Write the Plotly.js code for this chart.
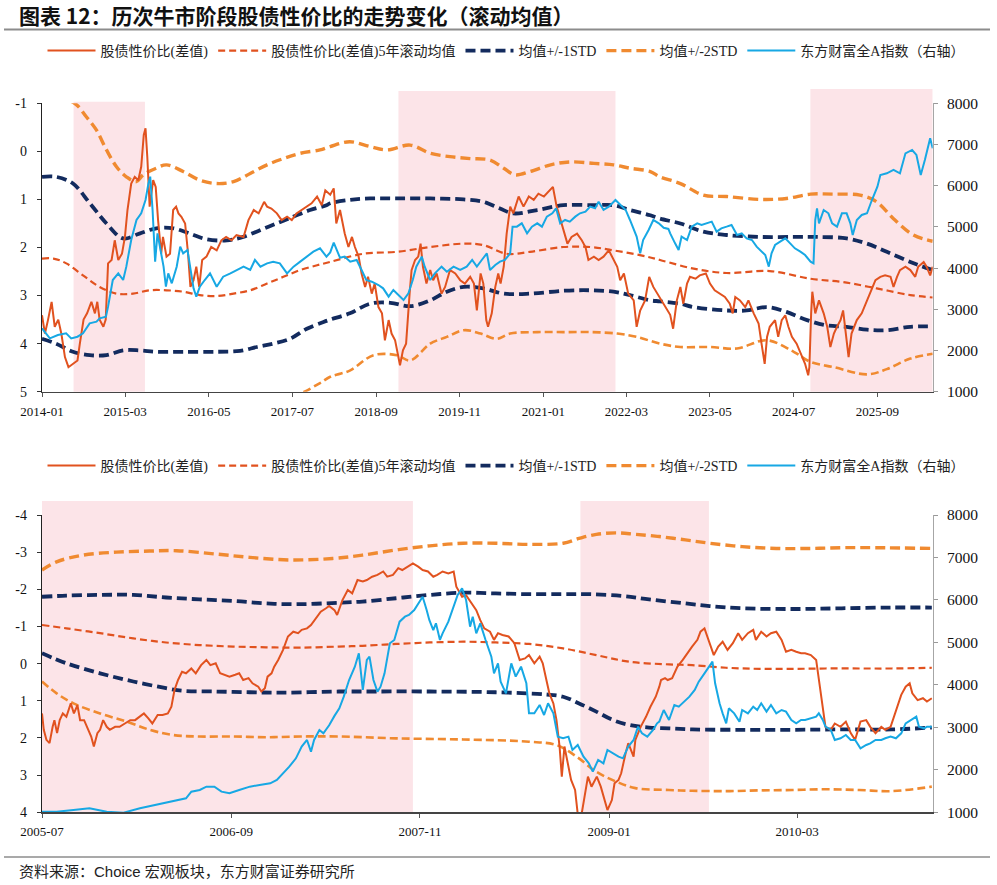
<!DOCTYPE html>
<html>
<head>
<meta charset="utf-8">
<script src="https://cdn.plot.ly/plotly-3.0.1.min.js"></script>
<style>
  html, body { margin: 0; padding: 0; background: #fff; }
  #chart { width: 997px; height: 885px; }
</style>
</head>
<body>
<div id="chart"></div>
<script>
// ---------- Panel 1: 2014-01 to 2026 ----------
const topTicks = ['2014-01','2015-03','2016-05','2017-07','2018-09','2019-11','2021-01','2022-03','2023-05','2024-07','2025-09'];
const topBullRuns = [['2014-06-11','2015-06-10'],['2018-12-24','2022-01-04'],['2024-09-24','2026-06-10']];

// equity-bond spread (left axis)
const topRatio = [['2014-01-01',3.41],['2014-01-16',3.79],['2014-02-01',3.5],['2014-02-19',3.13],['2014-03-07',3.65],['2014-03-25',3.5],['2014-04-10',3.8],['2014-04-28',4.28],['2014-05-16',4.49],['2014-06-10',4.42],['2014-07-01',4.35],['2014-07-13',4.0],['2014-08-01',3.5],['2014-08-19',3.37],['2014-09-10',3.13],['2014-09-28',3.37],['2014-10-10',3.13],['2014-10-22',3.5],['2014-11-10',3.65],['2014-11-22',3.5],['2014-12-04',2.33],['2014-12-22',2.26],['2015-01-07',1.85],['2015-01-25',2.26],['2015-02-13',2.13],['2015-02-28',1.78],['2015-03-13',1.22],['2015-04-01',0.67],['2015-04-19',0.53],['2015-05-07',0.6],['2015-05-22',0.32],['2015-06-04',-0.34],['2015-06-13',-0.48],['2015-06-22',0.11],['2015-07-04',1.15],['2015-07-22',0.6],['2015-08-04',0.74],['2015-08-16',1.43],['2015-09-01',2.13],['2015-09-10',1.78],['2015-09-28',2.19],['2015-10-16',2.13],['2015-11-01',1.22],['2015-11-16',1.15],['2015-11-28',1.29],['2015-12-13',1.36],['2016-01-01',1.5],['2016-01-16',2.13],['2016-01-28',2.82],['2016-02-13',2.68],['2016-02-27',2.4],['2016-03-13',2.82],['2016-03-28',2.26],['2016-04-19',2.19],['2016-05-13',1.99],['2016-06-10',2.06],['2016-07-04',1.85],['2016-07-28',1.78],['2016-08-25',1.85],['2016-09-19',1.74],['2016-10-25',1.78],['2016-11-19',1.43],['2016-12-16',1.22],['2017-01-10',1.29],['2017-02-07',1.05],['2017-02-22',1.15],['2017-03-16',1.19],['2017-04-13',1.29],['2017-05-07',1.43],['2017-06-04',1.36],['2017-06-28',1.43],['2017-07-22',1.29],['2017-08-19',1.22],['2017-09-13',1.15],['2017-10-07',1.08],['2017-11-04',0.94],['2017-11-28',1.12],['2017-12-16',0.81],['2018-01-10',0.9],['2018-01-28',0.77],['2018-02-10',1.5],['2018-03-01',1.22],['2018-03-25',1.71],['2018-04-13',1.99],['2018-05-01',1.78],['2018-05-16',1.99],['2018-06-04',2.19],['2018-06-19',2.54],['2018-07-07',2.82],['2018-07-22',2.61],['2018-08-10',2.96],['2018-08-25',2.75],['2018-09-13',3.24],['2018-10-01',3.37],['2018-10-16',3.93],['2018-11-04',3.51],['2018-11-19',3.79],['2018-12-07',3.93],['2018-12-19',4.21],['2019-01-01',4.45],['2019-01-16',4.14],['2019-02-01',4.0],['2019-02-19',2.96],['2019-03-01',2.47],['2019-03-19',2.26],['2019-04-04',2.19],['2019-04-16',1.92],['2019-04-28',2.4],['2019-05-16',2.75],['2019-06-04',2.47],['2019-06-19',2.68],['2019-07-07',2.54],['2019-08-01',2.96],['2019-08-19',2.82],['2019-09-13',2.47],['2019-10-10',2.54],['2019-11-04',2.68],['2019-11-28',2.75],['2019-12-25',2.61],['2020-01-13',2.75],['2020-01-28',3.31],['2020-02-16',2.54],['2020-03-01',2.75],['2020-03-16',3.51],['2020-03-25',3.65],['2020-04-13',3.37],['2020-05-01',2.82],['2020-05-16',2.54],['2020-05-28',2.75],['2020-06-13',2.4],['2020-06-28',1.71],['2020-07-16',1.15],['2020-08-01',1.29],['2020-08-28',0.94],['2020-09-22',1.15],['2020-10-19',0.94],['2020-11-13',1.01],['2020-12-07',0.88],['2021-01-04',0.94],['2021-01-28',0.84],['2021-02-19',0.74],['2021-03-10',1.15],['2021-04-04',1.5],['2021-04-22',1.78],['2021-05-04',1.92],['2021-05-25',1.78],['2021-06-22',1.71],['2021-07-16',1.85],['2021-08-04',1.99],['2021-08-19',2.26],['2021-09-16',2.19],['2021-10-10',2.26],['2021-11-04',2.19],['2021-12-01',2.06],['2021-12-25',2.26],['2022-01-13',2.4],['2022-01-28',2.68],['2022-02-16',2.54],['2022-03-10',2.96],['2022-04-07',3.1],['2022-04-22',3.65],['2022-05-10',3.31],['2022-06-04',3.1],['2022-06-25',2.61],['2022-07-16',2.82],['2022-08-13',3.0],['2022-09-13',3.2],['2022-10-10',3.4],['2022-10-25',3.69],['2022-11-13',3.1],['2022-12-01',2.82],['2022-12-16',3.17],['2023-01-04',2.75],['2023-01-19',2.61],['2023-02-16',2.65],['2023-03-10',2.58],['2023-04-10',2.54],['2023-05-01',2.75],['2023-05-25',2.89],['2023-06-22',2.96],['2023-07-16',3.03],['2023-08-10',3.17],['2023-08-25',3.37],['2023-09-07',3.03],['2023-10-01',3.1],['2023-10-28',3.24],['2023-11-13',3.1],['2023-12-10',3.37],['2024-01-04',3.58],['2024-01-19',4.0],['2024-02-04',4.42],['2024-02-16',3.86],['2024-03-01',3.65],['2024-03-28',3.51],['2024-04-13',3.86],['2024-05-01',3.51],['2024-05-19',3.41],['2024-06-04',3.65],['2024-06-22',3.86],['2024-07-16',4.0],['2024-08-13',4.28],['2024-08-28',4.42],['2024-09-13',4.66],['2024-09-19',4.49],['2024-09-28',3.37],['2024-10-04',2.92],['2024-10-19',3.37],['2024-11-07',3.1],['2024-12-01',3.37],['2024-12-19',3.65],['2025-01-04',4.07],['2025-01-22',3.79],['2025-02-07',3.65],['2025-02-25',3.51],['2025-03-10',3.31],['2025-03-25',3.86],['2025-04-07',4.28],['2025-04-22',3.79],['2025-05-19',3.51],['2025-06-13',3.37],['2025-07-10',3.1],['2025-08-04',2.82],['2025-08-22',2.68],['2025-09-16',2.61],['2025-10-10',2.58],['2025-11-07',2.61],['2025-11-22',2.82],['2025-12-10',2.61],['2025-12-25',2.47],['2026-01-22',2.4],['2026-02-16',2.47],['2026-03-13',2.61],['2026-03-28',2.4],['2026-04-25',2.3],['2026-05-10',2.4],['2026-05-28',2.58],['2026-06-10',2.4]];

// all-A index (right axis)
const topIndex = [['2014-01-01',2538],['2014-02-10',2295],['2014-03-23',2376],['2014-05-04',2416],['2014-05-30',2295],['2014-07-01',2335],['2014-07-29',2416],['2014-09-01',2659],['2014-10-06',2700],['2014-10-22',2780],['2014-11-23',2821],['2014-12-04',3064],['2014-12-28',3711],['2015-01-25',3873],['2015-02-19',3711],['2015-03-07',4035],['2015-04-01',4682],['2015-04-28',5168],['2015-05-22',5330],['2015-06-13',5653],['2015-06-28',6058],['2015-07-07',6220],['2015-07-19',5410],['2015-08-01',4156],['2015-08-13',4844],['2015-08-25',4520],['2015-09-13',4035],['2015-09-25',3549],['2015-10-07',3873],['2015-10-25',3630],['2015-11-19',4035],['2015-12-07',4520],['2015-12-22',4358],['2016-01-13',4440],['2016-01-28',4035],['2016-02-13',3509],['2016-02-27',3307],['2016-03-16',3549],['2016-04-10',3711],['2016-05-07',3873],['2016-06-10',3549],['2016-07-13',3792],['2016-08-19',3873],['2016-09-19',3954],['2016-10-25',4035],['2016-11-28',3954],['2016-12-22',4197],['2017-01-19',4035],['2017-02-22',4116],['2017-03-25',4156],['2017-04-28',4116],['2017-06-04',3873],['2017-07-07',4035],['2017-08-10',4156],['2017-09-13',4278],['2017-10-16',4399],['2017-11-19',4480],['2017-12-22',4278],['2018-01-10',4380],['2018-01-28',4620],['2018-03-01',4250],['2018-03-25',4278],['2018-04-22',4156],['2018-05-25',4197],['2018-06-19',3954],['2018-07-13',3711],['2018-08-10',3670],['2018-09-13',3590],['2018-10-07',3509],['2018-11-04',3307],['2018-11-28',3468],['2018-12-25',3347],['2019-01-19',3226],['2019-02-13',3388],['2019-03-07',3711],['2019-03-25',4035],['2019-04-22',4278],['2019-05-07',4035],['2019-06-04',3711],['2019-06-28',3873],['2019-08-01',4035],['2019-08-28',3913],['2019-10-01',4035],['2019-11-04',3954],['2019-12-07',4035],['2020-01-04',4197],['2020-01-28',4035],['2020-02-22',4197],['2020-03-19',4358],['2020-04-04',3954],['2020-05-01',4075],['2020-05-25',4156],['2020-06-19',4197],['2020-07-16',4358],['2020-07-28',5006],['2020-08-19',5006],['2020-09-13',5087],['2020-10-10',4844],['2020-11-04',5006],['2020-12-01',5087],['2020-12-25',5006],['2021-01-19',5249],['2021-02-16',5330],['2021-03-07',5451],['2021-03-28',5087],['2021-04-22',5168],['2021-05-16',5128],['2021-06-13',5249],['2021-07-07',5330],['2021-08-04',5370],['2021-08-28',5492],['2021-09-22',5451],['2021-10-10',5613],['2021-11-04',5411],['2021-12-01',5492],['2022-01-04',5653],['2022-01-28',5532],['2022-02-25',5411],['2022-03-19',5168],['2022-04-07',4925],['2022-04-22',4763],['2022-05-10',4358],['2022-05-25',4682],['2022-06-22',4925],['2022-07-16',5168],['2022-08-13',5087],['2022-09-07',4980],['2022-10-01',4950],['2022-10-10',4844],['2022-11-04',4601],['2022-11-22',4440],['2022-12-07',4763],['2023-01-04',4682],['2023-01-28',5006],['2023-02-25',5087],['2023-03-19',5047],['2023-04-13',5087],['2023-05-10',5128],['2023-06-04',4884],['2023-06-28',4965],['2023-07-25',5006],['2023-08-19',5047],['2023-09-16',4803],['2023-10-10',4844],['2023-11-04',4722],['2023-12-01',4682],['2023-12-25',4520],['2024-01-19',4399],['2024-02-07',4318],['2024-02-25',4035],['2024-03-10',4358],['2024-03-28',4561],['2024-04-22',4642],['2024-05-19',4722],['2024-06-13',4601],['2024-07-07',4480],['2024-08-04',4399],['2024-08-28',4318],['2024-09-25',4156],['2024-10-10',4116],['2024-10-19',5168],['2024-10-28',5451],['2024-11-07',5087],['2024-12-01',5411],['2024-12-25',5330],['2025-01-13',5087],['2025-02-07',5006],['2025-03-04',5330],['2025-03-28',5330],['2025-04-16',5087],['2025-04-28',4803],['2025-05-19',5168],['2025-06-13',5290],['2025-07-10',5330],['2025-08-04',5653],['2025-09-01',5977],['2025-09-16',6260],['2025-10-19',6301],['2025-11-22',6382],['2025-12-25',6301],['2026-01-22',6786],['2026-02-25',6867],['2026-03-19',6746],['2026-04-10',6260],['2026-05-01',6624],['2026-05-19',6948],['2026-05-28',7150],['2026-06-10',6908]];

// 5-year rolling mean and the ±1 / ±2 standard-deviation bands
const topMean = [['2014-01-01',2.23],['2014-02-28',2.23],['2014-05-05',2.33],['2014-07-29',2.58],['2014-10-22',2.82],['2015-01-16',2.96],['2015-04-10',2.96],['2015-07-04',2.89],['2015-09-28',2.89],['2015-12-22',2.92],['2016-03-16',2.99],['2016-06-10',3.01],['2016-09-04',2.96],['2016-11-28',2.89],['2017-02-22',2.75],['2017-05-16',2.61],['2017-08-10',2.47],['2017-11-04',2.37],['2018-01-10',2.3],['2018-06-28',2.13],['2018-12-16',2.09],['2019-06-04',1.99],['2019-11-22',1.92],['2020-03-01',1.95],['2020-06-28',2.13],['2020-10-25',2.09],['2021-04-13',1.99],['2021-08-28',1.99],['2021-12-25',2.06],['2022-06-13',2.19],['2022-08-19',2.26],['2023-02-07',2.44],['2023-07-25',2.53],['2024-03-01',2.49],['2024-09-25',2.65],['2025-03-10',2.72],['2025-08-28',2.85],['2026-02-16',2.99],['2026-06-10',3.04]];
const topMinus1Sd = [['2014-01-01',0.53],['2014-03-14',0.53],['2014-06-08',0.67],['2014-09-02',1.08],['2014-11-26',1.5],['2015-02-19',1.81],['2015-05-13',1.71],['2015-08-07',1.6],['2015-11-01',1.6],['2016-01-25',1.71],['2016-04-19',1.83],['2016-08-01',1.85],['2016-10-23',1.78],['2017-01-17',1.64],['2017-04-11',1.5],['2017-07-05',1.36],['2017-09-29',1.22],['2017-12-22',1.12],['2018-01-10',1.08],['2018-04-20',1.01],['2018-08-01',0.98],['2018-12-16',0.98],['2019-06-04',0.98],['2019-11-22',1.0],['2020-03-01',1.05],['2020-05-25',1.19],['2020-08-01',1.29],['2020-12-01',1.22],['2021-04-13',1.12],['2021-09-16',1.12],['2021-12-25',1.12],['2022-03-19',1.22],['2022-07-01',1.33],['2022-08-19',1.4],['2022-12-01',1.5],['2023-03-28',1.67],['2023-07-25',1.74],['2024-01-13',1.78],['2024-07-01',1.78],['2024-10-28',1.78],['2025-03-28',1.81],['2025-07-10',1.92],['2025-10-19',2.09],['2026-02-16',2.3],['2026-06-10',2.47]];
const topPlus1Sd = [['2014-01-01',3.9],['2014-03-14',4.0],['2014-06-08',4.17],['2014-09-02',4.24],['2014-11-26',4.24],['2015-02-19',4.14],['2015-05-13',4.14],['2015-08-07',4.17],['2015-12-22',4.17],['2016-06-10',4.17],['2016-10-07',4.15],['2017-01-01',4.07],['2017-03-25',4.0],['2017-06-19',3.9],['2017-09-13',3.69],['2017-12-07',3.55],['2018-01-10',3.5],['2018-04-20',3.37],['2018-08-01',3.17],['2018-11-13',3.15],['2019-02-22',3.22],['2019-06-04',3.1],['2019-08-28',2.92],['2019-11-22',2.82],['2020-03-01',2.85],['2020-06-13',2.96],['2020-10-25',2.96],['2021-04-13',2.9],['2021-08-28',2.89],['2021-12-25',2.92],['2022-03-19',2.99],['2022-07-01',3.1],['2022-08-19',3.12],['2022-12-01',3.17],['2023-02-07',3.24],['2023-07-25',3.31],['2023-11-04',3.31],['2024-02-16',3.24],['2024-05-25',3.34],['2024-09-07',3.51],['2024-12-16',3.62],['2025-03-28',3.65],['2025-07-10',3.71],['2025-10-19',3.72],['2026-02-16',3.65],['2026-06-10',3.64]];
const topMinus2Sd = [['2014-01-01',-1.15],['2014-02-15',-1.15],['2014-06-16',-1.0],['2014-08-15',-0.72],['2014-10-06',-0.44],['2014-11-26',-0.03],['2015-01-16',0.32],['2015-03-07',0.53],['2015-04-27',0.63],['2015-06-01',0.49],['2015-08-07',0.35],['2015-09-28',0.28],['2015-12-22',0.42],['2016-03-16',0.6],['2016-06-10',0.67],['2016-09-04',0.63],['2016-11-28',0.46],['2017-02-22',0.28],['2017-05-16',0.15],['2017-08-10',0.04],['2017-11-19',-0.03],['2018-01-10',-0.1],['2018-04-20',-0.2],['2018-08-01',-0.1],['2018-10-25',-0.03],['2019-02-22',-0.13],['2019-06-04',0.04],['2019-09-13',0.11],['2019-12-25',0.15],['2020-04-04',0.18],['2020-06-13',0.35],['2020-08-10',0.49],['2020-10-25',0.42],['2021-02-07',0.28],['2021-05-16',0.22],['2021-09-16',0.25],['2021-12-25',0.28],['2022-03-19',0.35],['2022-07-01',0.42],['2022-08-19',0.53],['2022-12-01',0.67],['2023-03-28',0.91],['2023-07-25',0.94],['2024-01-13',1.0],['2024-05-25',0.98],['2024-09-25',0.89],['2025-01-22',0.89],['2025-06-04',0.91],['2025-08-28',1.05],['2025-11-22',1.4],['2026-03-04',1.74],['2026-06-10',1.87]];
const topPlus2Sd = [['2014-01-01',5.6],['2014-11-01',5.55],['2015-09-01',5.45],['2016-07-01',5.38],['2017-03-01',5.25],['2017-08-10',5.04],['2017-11-19',4.82],['2018-01-10',4.69],['2018-04-20',4.56],['2018-08-19',4.24],['2018-12-16',4.24],['2019-02-22',4.35],['2019-06-04',4.0],['2019-08-28',3.86],['2019-11-22',3.72],['2020-02-16',3.79],['2020-05-07',3.9],['2020-07-16',3.79],['2020-12-01',3.76],['2021-04-13',3.76],['2021-08-28',3.76],['2022-01-13',3.79],['2022-04-22',3.86],['2022-08-19',4.0],['2022-12-01',4.07],['2023-05-01',4.07],['2023-09-16',4.1],['2024-02-16',3.93],['2024-07-01',4.17],['2024-09-25',4.38],['2025-01-22',4.49],['2025-07-10',4.64],['2025-10-19',4.53],['2026-02-16',4.31],['2026-06-10',4.21]];

// ---------- Panel 2: 2005-07 to 2010 ----------
const botTicks = ['2005-07','2006-09','2007-11','2009-01','2010-03'];
const botBullRuns = [['2005-07-01','2007-10-16'],['2008-10-28','2009-08-14']];

const botRatio = [['2005-07-01',1.34],['2005-07-05',1.78],['2005-07-11',2.05],['2005-07-18',2.14],['2005-07-25',1.7],['2005-07-29',1.52],['2005-08-04',1.87],['2005-08-10',1.52],['2005-08-17',1.34],['2005-08-25',1.43],['2005-09-04',1.07],['2005-09-11',1.34],['2005-09-19',1.12],['2005-09-25',1.52],['2005-10-04',1.52],['2005-10-13',1.78],['2005-10-20',1.96],['2005-10-26',2.23],['2005-11-03',1.87],['2005-11-09',1.78],['2005-11-16',1.52],['2005-11-24',1.7],['2005-12-01',1.78],['2005-12-13',1.7],['2005-12-23',1.7],['2006-01-04',1.61],['2006-01-16',1.52],['2006-01-27',1.52],['2006-02-07',1.43],['2006-02-16',1.34],['2006-02-26',1.47],['2006-03-07',1.61],['2006-03-19',1.38],['2006-03-30',1.38],['2006-04-11',1.34],['2006-04-19',1.16],['2006-04-26',0.71],['2006-05-04',0.44],['2006-05-13',0.22],['2006-05-22',0.26],['2006-06-03',0.13],['2006-06-13',0.26],['2006-06-25',0.04],['2006-07-07',-0.1],['2006-07-16',0.04],['2006-07-28',-0.01],['2006-08-07',0.26],['2006-08-16',0.3],['2006-08-28',0.35],['2006-09-10',0.3],['2006-09-19',0.26],['2006-09-28',0.44],['2006-10-10',0.39],['2006-10-19',0.53],['2006-11-01',0.62],['2006-11-08',0.75],['2006-11-16',0.66],['2006-11-22',0.35],['2006-12-01',0.26],['2006-12-07',0.08],['2006-12-16',-0.1],['2006-12-27',-0.37],['2007-01-07',-0.73],['2007-01-19',-0.86],['2007-01-30',-0.82],['2007-02-07',-0.91],['2007-02-19',-0.95],['2007-02-28',-1.04],['2007-03-10',-1.22],['2007-03-22',-1.4],['2007-04-03',-1.49],['2007-04-10',-1.55],['2007-04-22',-1.44],['2007-04-28',-1.31],['2007-05-10',-1.71],['2007-05-22',-1.98],['2007-06-01',-1.89],['2007-06-13',-2.25],['2007-06-25',-2.21],['2007-07-04',-2.25],['2007-07-16',-2.34],['2007-07-28',-2.39],['2007-08-10',-2.48],['2007-08-19',-2.34],['2007-09-01',-2.39],['2007-09-13',-2.57],['2007-09-22',-2.52],['2007-10-04',-2.61],['2007-10-16',-2.7],['2007-10-28',-2.61],['2007-11-07',-2.52],['2007-11-19',-2.48],['2007-12-01',-2.34],['2007-12-10',-2.39],['2007-12-22',-2.48],['2008-01-04',-2.43],['2008-01-16',-2.48],['2008-01-22',-2.07],['2008-02-04',-1.8],['2008-02-13',-1.84],['2008-02-25',-1.62],['2008-03-07',-1.44],['2008-03-16',-1.17],['2008-03-25',-0.95],['2008-04-07',-0.86],['2008-04-16',-0.64],['2008-04-25',-0.82],['2008-05-05',-0.77],['2008-05-19',-0.73],['2008-06-01',-0.55],['2008-06-13',-0.1],['2008-06-25',-0.14],['2008-07-04',-0.23],['2008-07-16',-0.01],['2008-07-28',-0.19],['2008-08-04',-0.01],['2008-08-13',0.48],['2008-08-19',0.8],['2008-08-28',1.07],['2008-09-04',1.52],['2008-09-11',2.23],['2008-09-16',3.04],['2008-09-22',2.23],['2008-10-01',2.77],['2008-10-07',3.13],['2008-10-16',3.4],['2008-10-22',4.05],['2008-10-30',4.1],['2008-11-07',3.49],['2008-11-14',3.04],['2008-11-22',3.31],['2008-12-04',3.04],['2008-12-13',3.31],['2008-12-22',3.67],['2008-12-28',3.94],['2009-01-07',3.67],['2009-01-13',3.22],['2009-01-22',3.13],['2009-01-28',2.95],['2009-02-07',2.41],['2009-02-13',2.14],['2009-02-25',2.5],['2009-03-01',2.05],['2009-03-13',1.7],['2009-03-25',1.43],['2009-04-04',1.16],['2009-04-16',0.89],['2009-04-24',0.62],['2009-04-28',0.44],['2009-05-07',0.39],['2009-05-13',0.44],['2009-05-23',0.39],['2009-06-04',0.08],['2009-06-16',-0.1],['2009-06-26',-0.28],['2009-07-07',-0.46],['2009-07-19',-0.64],['2009-07-26',-0.86],['2009-08-04',-0.95],['2009-08-10',-0.73],['2009-08-19',-0.46],['2009-08-25',-0.23],['2009-09-04',-0.46],['2009-09-14',-0.59],['2009-09-25',-0.37],['2009-10-07',-0.55],['2009-10-19',-0.82],['2009-10-28',-0.64],['2009-11-10',-0.82],['2009-11-22',-0.91],['2009-11-28',-0.64],['2009-12-10',-0.86],['2009-12-22',-0.73],['2010-01-01',-0.82],['2010-01-13',-0.86],['2010-01-25',-0.64],['2010-02-04',-0.32],['2010-02-16',-0.37],['2010-02-27',-0.32],['2010-03-10',-0.28],['2010-03-19',-0.28],['2010-04-01',-0.23],['2010-04-13',-0.1],['2010-04-19',0.44],['2010-04-28',1.16],['2010-05-04',1.7],['2010-05-16',1.78],['2010-05-25',1.61],['2010-06-07',1.7],['2010-06-19',1.56],['2010-06-30',1.87],['2010-07-10',2.05],['2010-07-22',1.56],['2010-08-04',1.52],['2010-08-13',1.7],['2010-08-25',1.87],['2010-09-07',1.7],['2010-09-16',1.78],['2010-09-28',1.7],['2010-10-10',1.25],['2010-10-22',0.84],['2010-11-01',0.62],['2010-11-10',0.53],['2010-11-16',0.8],['2010-11-28',0.98],['2010-12-10',0.93],['2010-12-19',1.02],['2010-12-30',0.93]];

const botIndex = [['2005-07-01',1015],['2005-08-03',1015],['2005-09-10',1055],['2005-10-16',1094],['2005-11-24',1015],['2006-01-01',992],['2006-02-07',1094],['2006-03-16',1172],['2006-04-22',1251],['2006-05-22',1329],['2006-06-03',1486],['2006-06-22',1525],['2006-07-07',1604],['2006-07-25',1604],['2006-08-10',1486],['2006-08-28',1447],['2006-09-19',1525],['2006-10-13',1604],['2006-11-04',1643],['2006-11-28',1683],['2006-12-13',1761],['2006-12-27',1918],['2007-01-10',2075],['2007-01-25',2271],['2007-02-07',2546],['2007-02-19',2703],['2007-02-28',2428],['2007-03-07',2703],['2007-03-19',2938],['2007-03-28',2860],['2007-04-10',3050],['2007-04-22',3270],['2007-05-03',3450],['2007-05-13',3723],['2007-05-25',4115],['2007-06-07',4429],['2007-06-16',4743],['2007-06-25',3880],['2007-07-04',4586],['2007-07-10',4665],['2007-07-19',4115],['2007-07-28',3840],['2007-08-04',3958],['2007-08-13',4272],['2007-08-25',4979],['2007-09-04',5057],['2007-09-16',5489],['2007-09-28',5606],['2007-10-07',5646],['2007-10-19',5763],['2007-11-01',5999],['2007-11-07',6077],['2007-11-16',5763],['2007-11-22',5528],['2007-12-01',5292],['2007-12-07',5449],['2007-12-16',5057],['2007-12-22',5214],['2008-01-04',5489],['2008-01-13',5763],['2008-01-25',6117],['2008-02-04',6273],['2008-02-13',5999],['2008-02-22',5371],['2008-02-28',5606],['2008-03-07',5214],['2008-03-16',5449],['2008-03-28',5057],['2008-04-10',4665],['2008-04-16',4272],['2008-04-25',4508],['2008-05-01',4076],['2008-05-13',3801],['2008-05-25',4508],['2008-06-04',4194],['2008-06-16',4429],['2008-06-28',4037],['2008-07-04',3330],['2008-07-16',3330],['2008-07-28',3527],['2008-08-07',3291],['2008-08-16',3566],['2008-08-28',3330],['2008-09-07',2781],['2008-09-19',2742],['2008-10-01',2781],['2008-10-10',2467],['2008-10-22',2585],['2008-11-04',2310],['2008-11-16',2153],['2008-11-25',1957],['2008-12-07',2232],['2008-12-19',2153],['2008-12-28',2467],['2009-01-10',2389],['2009-01-22',2310],['2009-02-01',2271],['2009-02-13',2546],['2009-02-25',2703],['2009-03-07',3016],['2009-03-16',2860],['2009-03-28',2781],['2009-04-10',2938],['2009-04-19',3095],['2009-04-24',3134],['2009-05-04',3409],['2009-05-16',3174],['2009-05-28',3527],['2009-06-07',3487],['2009-06-19',3605],['2009-07-01',3723],['2009-07-13',3880],['2009-07-22',4076],['2009-08-04',4272],['2009-08-16',4468],['2009-08-22',4547],['2009-08-28',4037],['2009-09-07',3566],['2009-09-14',3330],['2009-09-22',3095],['2009-09-28',3448],['2009-10-10',3330],['2009-10-22',3134],['2009-10-28',3409],['2009-11-10',3330],['2009-11-22',3487],['2009-12-01',3409],['2009-12-10',3566],['2009-12-22',3370],['2010-01-01',3527],['2010-01-13',3330],['2010-01-25',3409],['2010-02-04',3370],['2010-02-16',3174],['2010-02-27',3095],['2010-03-10',3174],['2010-03-19',3174],['2010-04-01',3213],['2010-04-13',3252],['2010-04-19',3330],['2010-04-28',3174],['2010-05-04',3016],['2010-05-16',2938],['2010-05-25',2703],['2010-06-07',2742],['2010-06-19',2820],['2010-06-30',2703],['2010-07-10',2703],['2010-07-22',2506],['2010-08-04',2585],['2010-08-13',2624],['2010-08-25',2703],['2010-09-07',2703],['2010-09-16',2742],['2010-09-28',2781],['2010-10-10',2742],['2010-10-22',2860],['2010-11-01',3095],['2010-11-13',3174],['2010-11-25',3252],['2010-12-01',3016],['2010-12-13',2977],['2010-12-19',3016],['2010-12-30',3016]];

const botMean = [['2005-07-01',-1.04],['2005-08-25',-0.95],['2005-11-09',-0.82],['2006-01-23',-0.68],['2006-04-07',-0.57],['2006-06-21',-0.5],['2006-09-05',-0.46],['2006-11-19',-0.44],['2007-02-04',-0.43],['2007-05-02',-0.46],['2007-06-24',-0.48],['2007-09-08',-0.53],['2007-11-23',-0.57],['2008-02-07',-0.59],['2008-04-20',-0.57],['2008-07-04',-0.53],['2008-09-19',-0.41],['2008-12-03',-0.23],['2009-02-16',-0.05],['2009-05-16',0.02],['2009-07-07',0.04],['2009-09-22',0.11],['2009-12-07',0.14],['2010-02-19',0.14],['2010-05-04',0.13],['2010-07-19',0.13],['2010-10-01',0.13],['2010-12-30',0.11]];
const botMinus1Sd = [['2005-07-01',-1.8],['2005-08-25',-1.83],['2005-11-09',-1.85],['2006-01-23',-1.85],['2006-04-07',-1.78],['2006-06-21',-1.73],['2006-09-05',-1.69],['2006-11-19',-1.62],['2007-02-04',-1.6],['2007-05-02',-1.64],['2007-06-24',-1.67],['2007-09-08',-1.76],['2007-11-23',-1.85],['2008-02-07',-1.91],['2008-04-20',-1.89],['2008-07-04',-1.87],['2008-09-19',-1.87],['2008-11-18',-1.87],['2009-02-01',-1.82],['2009-04-01',-1.73],['2009-06-22',-1.62],['2009-08-16',-1.55],['2009-10-28',-1.49],['2010-02-19',-1.47],['2010-06-10',-1.49],['2010-10-01',-1.51],['2010-12-30',-1.51]];
const botPlus1Sd = [['2005-07-01',-0.28],['2005-08-25',-0.01],['2005-11-09',0.26],['2006-01-23',0.48],['2006-04-07',0.66],['2006-05-14',0.73],['2006-07-28',0.75],['2006-10-13',0.77],['2006-12-27',0.78],['2007-05-02',0.75],['2007-06-24',0.75],['2007-11-23',0.75],['2008-04-20',0.77],['2008-08-12',0.83],['2008-09-19',0.89],['2008-10-25',1.07],['2008-12-03',1.29],['2009-01-10',1.52],['2009-02-16',1.65],['2009-04-01',1.72],['2009-05-16',1.74],['2009-07-07',1.77],['2009-10-28',1.78],['2010-02-19',1.78],['2010-06-10',1.77],['2010-10-01',1.77],['2010-12-30',1.72]];
const botMinus2Sd = [['2005-07-01',-2.52],['2005-08-03',-2.74],['2005-10-01',-2.92],['2005-12-16',-3.0],['2006-03-01',-3.03],['2006-05-01',-3.04],['2006-07-28',-2.95],['2006-10-13',-2.86],['2007-01-11',-2.79],['2007-04-18',-2.83],['2007-06-24',-2.92],['2007-09-08',-3.06],['2007-11-23',-3.17],['2008-02-07',-3.24],['2008-04-20',-3.24],['2008-07-04',-3.21],['2008-09-19',-3.24],['2008-10-25',-3.37],['2008-12-03',-3.48],['2009-01-16',-3.52],['2009-03-01',-3.48],['2009-04-24',-3.42],['2009-06-22',-3.33],['2009-08-16',-3.24],['2009-10-28',-3.15],['2010-01-13',-3.1],['2010-03-28',-3.1],['2010-06-10',-3.12],['2010-08-25',-3.12],['2010-12-30',-3.1]];
const botPlus2Sd = [['2005-07-01',0.48],['2005-08-03',0.8],['2005-09-10',1.07],['2005-11-09',1.34],['2006-01-08',1.56],['2006-03-01',1.78],['2006-04-22',1.92],['2006-06-21',1.96],['2006-09-05',1.96],['2006-11-19',1.98],['2007-02-04',1.96],['2007-05-02',1.96],['2007-09-08',2.01],['2008-02-07',2.04],['2008-07-04',2.1],['2008-09-04',2.19],['2008-10-19',2.5],['2008-12-03',2.91],['2009-01-16',3.17],['2009-03-01',3.35],['2009-05-16',3.4],['2009-07-07',3.42],['2009-09-22',3.43],['2009-12-07',3.41],['2010-02-19',3.4],['2010-05-04',3.38],['2010-07-19',3.4],['2010-10-01',3.43],['2010-12-30',3.31]];

// Legend labels
const seriesNames = ['股债性价比(差值)', '股债性价比(差值)5年滚动均值', '均值+/-1STD', '均值+/-2STD', '东方财富全A指数（右轴）'];

// ---------- styling ----------
const RED = '#E1521F', ORANGE = '#F08A30', NAVY = '#132B5E', BLUE = '#17A8E4', PINK = '#FCE4E8';
const SERIF = 'Liberation Serif, "Noto Sans CJK SC", serif';
const CJK = '"Noto Sans CJK SC", sans-serif';

const xs = a => a.map(p => p[0]);
const ys = a => a.map(p => p[1]);

function panelTraces(d, xa, yl, yr, leg) {
  const base = (s, extra) => Object.assign({
    type: 'scatter', mode: 'lines', x: xs(s), y: ys(s), xaxis: xa, yaxis: yl,
    legend: leg, hoverinfo: 'skip'
  }, extra);
  return [
    base(d.mean,  { name: seriesNames[1], legendrank: 2, line: { color: RED, width: 2.2, dash: '7px,4px', shape: 'spline' } }),
    base(d.m1,    { name: seriesNames[2], legendrank: 3, line: { color: NAVY, width: 3.8, dash: '10px,5px', shape: 'spline' } }),
    base(d.p1,    { name: seriesNames[2], showlegend: false, line: { color: NAVY, width: 3.8, dash: '10px,5px', shape: 'spline' } }),
    base(d.m2,    { name: seriesNames[3], legendrank: 4, line: { color: ORANGE, width: 3.4, dash: '10px,5px', shape: 'spline' } }),
    base(d.p2,    { name: seriesNames[3], showlegend: false, line: { color: ORANGE, width: 2.6, dash: '8px,4px', shape: 'spline' } }),
    base(d.ratio, { name: seriesNames[0], legendrank: 1, line: { color: RED, width: 2 } }),
    base(d.index, { name: seriesNames[4], legendrank: 5, yaxis: yr, line: { color: BLUE, width: 2 } })
  ];
}

const traces = [].concat(
  panelTraces({ mean: topMean, m1: topMinus1Sd, p1: topPlus1Sd, m2: topMinus2Sd, p2: topPlus2Sd, ratio: topRatio, index: topIndex }, 'x', 'y', 'y2', 'legend'),
  panelTraces({ mean: botMean, m1: botMinus1Sd, p1: botPlus1Sd, m2: botMinus2Sd, p2: botPlus2Sd, ratio: botRatio, index: botIndex }, 'x2', 'y3', 'y4', 'legend2')
);

// ---------- layout ----------
const W = 997, H = 885;
const py = px => 1 - px / H;   // pixel row -> paper fraction
const XDOM = [42 / W, 932.7 / W];
const TOP_DOM = [py(391.7), py(103.3)];
const BOT_DOM = [py(812.3), py(515)];

const tickFontX = { family: SERIF, size: 13, color: '#111' };
const tickFontL = { family: SERIF, size: 14, color: '#111' };
const tickFontR = { family: SERIF, size: 15.5, color: '#111' };

function dateAxis(ticks, range, anchor) {
  return {
    domain: XDOM, anchor: anchor, type: 'date', range: range,
    tickvals: ticks.map(t => t + '-01'), ticktext: ticks,
    tickfont: tickFontX, ticks: 'outside', ticklen: 4, tickcolor: '#555',
    showline: true, linecolor: '#444', linewidth: 1.3,
    showgrid: false, zeroline: false, ticklabelstandoff: 3
  };
}
function leftAxis(dom, lo, hi, anchor) {
  const vals = [];
  for (let v = lo; v <= hi; v++) vals.push(v);
  return {
    domain: dom, anchor: anchor, range: [hi, lo],
    tickvals: vals, ticktext: vals.map(v => String(v)),
    tickfont: tickFontL, ticks: 'outside', ticklen: 4, tickcolor: '#333',
    showline: true, linecolor: '#222', linewidth: 1.3,
    showgrid: false, zeroline: false, ticklabelstandoff: 7
  };
}
function rightAxis(over, anchor) {
  return {
    overlaying: over, anchor: anchor, side: 'right', range: [1000, 8000],
    tick0: 1000, dtick: 1000, tickfont: tickFontR,
    ticks: 'outside', ticklen: 4, tickcolor: '#999',
    showline: true, linecolor: '#A6A6A6', linewidth: 1.3,
    showgrid: false, zeroline: false, ticklabelstandoff: 6
  };
}
function legendAt(yPix) {
  return {
    orientation: 'h', x: 506 / W, xanchor: 'center', y: py(yPix), yanchor: 'middle',
    font: { family: SERIF, size: 14, color: '#222' },
    itemwidth: 48, bgcolor: 'rgba(0,0,0,0)', traceorder: 'normal'
  };
}

const shapes = [];
const topShadeTops = [101.7, 91, 89];
topBullRuns.forEach((r, i) => shapes.push({
  type: 'rect', xref: 'x', yref: 'paper', x0: r[0], x1: r[1],
  y0: TOP_DOM[0], y1: py(topShadeTops[i]), fillcolor: PINK, line: { width: 0 }, layer: 'below'
}));
botBullRuns.forEach(r => shapes.push({
  type: 'rect', xref: 'x2', yref: 'paper', x0: r[0], x1: r[1],
  y0: BOT_DOM[0], y1: py(501), fillcolor: PINK, line: { width: 0 }, layer: 'below'
}));
// header and footer rules
shapes.push({ type: 'line', xref: 'paper', yref: 'paper', x0: 4 / W, x1: 990 / W, y0: py(29.5), y1: py(29.5), line: { color: '#8C8C8C', width: 2 } });
shapes.push({ type: 'line', xref: 'paper', yref: 'paper', x0: 4 / W, x1: 990 / W, y0: py(857), y1: py(857), line: { color: '#8C8C8C', width: 1.5 } });

const layout = {
  width: W, height: H, autosize: false,
  margin: { l: 0, r: 0, t: 0, b: 0 },
  paper_bgcolor: '#fff', plot_bgcolor: 'rgba(0,0,0,0)',
  showlegend: true,
  xaxis: dateAxis(topTicks, ['2014-01-01', '2026-06-10'], 'y'),
  yaxis: leftAxis(TOP_DOM, -1, 5, 'x'),
  yaxis2: rightAxis('y', 'x'),
  xaxis2: dateAxis(botTicks, ['2005-07-01', '2011-01-01'], 'y3'),
  yaxis3: leftAxis(BOT_DOM, -4, 4, 'x2'),
  yaxis4: rightAxis('y3', 'x2'),
  legend: legendAt(51),
  legend2: legendAt(466),
  shapes: shapes,
  annotations: [
    { xref: 'paper', yref: 'paper', x: 17 / W, y: py(15), xanchor: 'left', yanchor: 'middle', showarrow: false,
      text: '<b>图表 12：历次牛市阶段股债性价比的走势变化（滚动均值）</b>',
      font: { family: CJK, size: 21, color: '#111' } },
    { xref: 'paper', yref: 'paper', x: 17 / W, y: py(871), xanchor: 'left', yanchor: 'middle', showarrow: false,
      text: '资料来源：Choice 宏观板块，东方财富证券研究所',
      font: { family: 'Liberation Sans, "Noto Sans CJK SC", sans-serif', size: 15, color: '#222' } }
  ]
};

Plotly.newPlot('chart', traces, layout, { staticPlot: true, displayModeBar: false });
</script>
</body>
</html>
